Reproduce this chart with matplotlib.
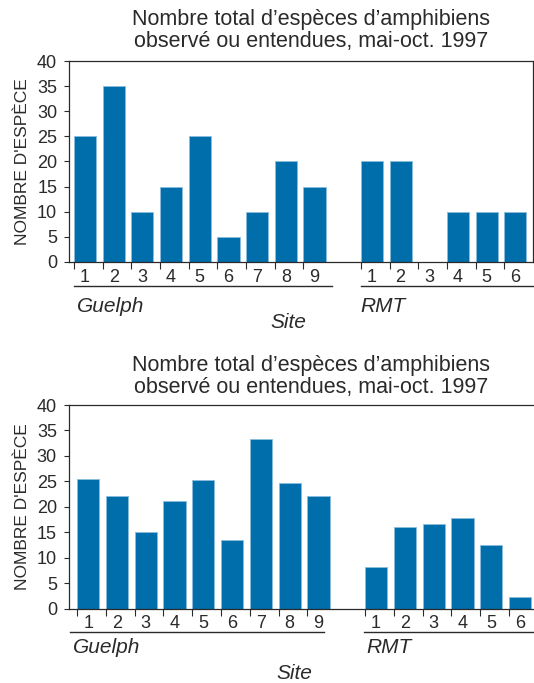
import numpy as np
import matplotlib.pyplot as plt

plt.rcParams['font.family'] = ['Liberation Sans', 'DejaVu Sans']

title_lines = ["Nombre total d\u2019espèces d\u2019amphibiens",
               "observé ou entendues, mai-oct. 1997"]
ylabel = "NOMBRE D'ESPÈCE"
guelph_sites = ["1", "2", "3", "4", "5", "6", "7", "8", "9"]
rmt_sites = ["1", "2", "3", "4", "5", "6"]

# species counts per site, first and second chart
guelph_a = [25, 35, 10, 15, 25, 5, 10, 20, 15]
rmt_a = [20, 20, 0, 10, 10, 10]
guelph_b = [25.4, 22.1, 15.0, 21.1, 25.2, 13.5, 33.4, 24.6, 22.2]
rmt_b = [8.2, 16.0, 16.7, 17.7, 12.4, 2.2]

BAR = "#006eab"
EDGE = "#8cbcdc"
INK = "#2a2a2a"
W = 0.77

fig = plt.figure(figsize=(5.34, 6.83), dpi=100)


def draw_panel(rect, guelph, rmt, xlim, right_spine, ul, grp_y, grp_x, site_xy, ul_y):
    ax = fig.add_axes(rect)
    pos_g = np.arange(len(guelph))
    pos_r = np.arange(len(rmt)) + len(guelph) + 1
    pos = np.concatenate([pos_g, pos_r])
    vals = list(guelph) + list(rmt)
    ax.bar(pos, vals, width=W, align='edge', color=BAR, edgecolor=EDGE, linewidth=0.6)
    ax.set_xlim(*xlim)
    ax.set_ylim(0, 40)
    ax.set_yticks(range(0, 41, 5))
    ax.tick_params(axis='y', direction='out', length=3.5, width=0.8, color=INK,
                   labelsize=13, labelcolor=INK, pad=5)
    ax.set_xticks(pos)
    ax.set_xticklabels([])
    ax.tick_params(axis='x', which='major', direction='out', length=5, width=0.8, color=INK)
    ax.set_xticks(pos + W / 2, minor=True)
    ax.set_xticklabels(guelph_sites[:len(guelph)] + rmt_sites[:len(rmt)], minor=True)
    ax.tick_params(axis='x', which='minor', length=0, labelsize=13, labelcolor=INK, pad=5)
    for s in ax.spines.values():
        s.set_color(INK)
        s.set_linewidth(0.9)
    ax.spines['right'].set_visible(right_spine)
    ax.set_ylabel(ylabel, fontsize=12.5, color=INK, labelpad=5)
    tr = ax.get_xaxis_transform()
    (g0, g1), (r0, r1) = ul
    ax.plot([g0, g1], [ul_y, ul_y], color=INK, lw=1.0, transform=tr, clip_on=False)
    ax.plot([r0, r1], [ul_y, ul_y], color=INK, lw=1.0, transform=tr, clip_on=False)
    ax.text(grp_x[0], grp_y, "Guelph", transform=tr, style='italic', fontsize=15,
            color=INK, ha='left', va='center')
    ax.text(grp_x[1], grp_y, "RMT", transform=tr, style='italic', fontsize=15,
            color=INK, ha='left', va='center')
    ax.text(site_xy[0], site_xy[1], "Site", transform=tr, style='italic', fontsize=15,
            color=INK, ha='center', va='center')
    return ax


draw_panel([69 / 534, 1 - 262 / 683, 464 / 534, 201 / 683], guelph_a, rmt_a,
           (-0.174, 16.0), True, ((0, 9), (10, 16.2)), -0.222, (0.1, 9.98),
           (7.46, -0.302), -0.119)
draw_panel([68.7 / 534, 1 - 608.5 / 683, 465.3 / 534, 203.5 / 683], guelph_b, rmt_b,
           (-0.29, 15.87), False, ((-0.24, 8.58), (9.98, 15.9)), -0.194, (-0.15, 10.06),
           (7.55, -0.318), -0.117)

for y0 in (20, 366):
    fig.text(311 / 534, 1 - y0 / 683, title_lines[0], ha='center', va='center',
             fontsize=15.5, color=INK)
    fig.text(311 / 534, 1 - (y0 + 22) / 683, title_lines[1], ha='center', va='center',
             fontsize=15.5, color=INK)

fig.savefig("out.png", dpi=100)
